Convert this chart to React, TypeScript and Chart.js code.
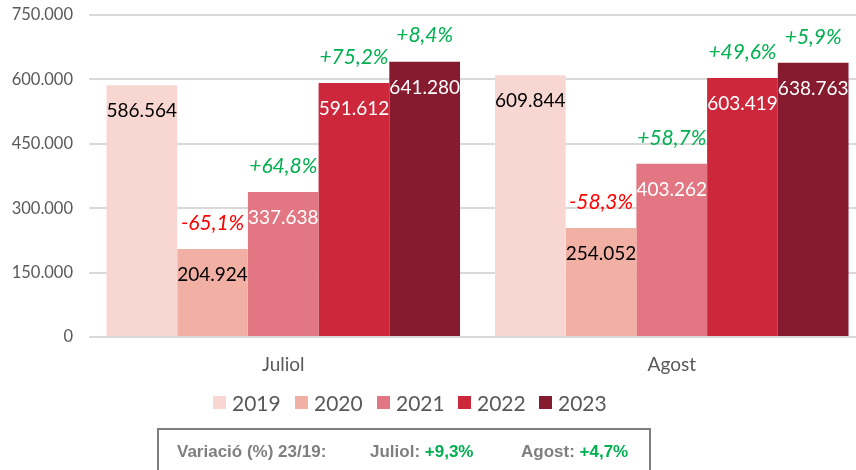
import React, { useEffect, useRef } from "react";
import { Chart, registerables } from "chart.js";

Chart.register(...registerables);

const categories = ["Juliol", "Agost"];
const years = ["2019", "2020", "2021", "2022", "2023"];
const values2019 = [586564, 609844];
const values2020 = [204924, 254052];
const values2021 = [337638, 403262];
const values2022 = [591612, 603419];
const values2023 = [641280, 638763];
const change2020 = [-65.1, -58.3];
const change2021 = [64.8, 58.7];
const change2022 = [75.2, 49.6];
const change2023 = [8.4, 5.9];
const yTicks = [0, 150000, 300000, 450000, 600000, 750000];
const variation2319 = ["+9,3%", "+4,7%"];

const colors = ["#f8d7d3", "#f2b0a5", "#e27783", "#cd273b", "#861a2f"];
const valueTextColors = ["#000000", "#000000", "#ffffff", "#ffffff", "#ffffff"];
const FONT = "Lato, 'Open Sans', sans-serif";

const fmt = (n: number) => String(Math.round(n)).replace(/\B(?=(\d{3})+(?!\d))/g, ".");
const fmtPct = (v: number) => (v > 0 ? "+" : "") + v.toFixed(1).replace(".", ",") + "%";

const seriesValues = [values2019, values2020, values2021, values2022, values2023];
const seriesChanges: (number[] | null)[] = [null, change2020, change2021, change2022, change2023];

const labelPlugin = {
  id: "barLabels",
  afterDatasetsDraw(chart: any) {
    const ctx = chart.ctx;
    ctx.save();
    ctx.textAlign = "center";
    ctx.textBaseline = "middle";
    chart.data.datasets.forEach((ds: any, di: number) => {
      const meta = chart.getDatasetMeta(di);
      meta.data.forEach((bar: any, i: number) => {
        const v = ds.data[i];
        ctx.font = `19px ${FONT}`;
        ctx.fillStyle = valueTextColors[di];
        ctx.fillText(fmt(v), bar.x, bar.y + 26);
        const ch = seriesChanges[di];
        if (ch) {
          const c = ch[i];
          ctx.font = `italic 21px ${FONT}`;
          ctx.fillStyle = c < 0 ? "#ff0000" : "#00b050";
          ctx.fillText(fmtPct(c), bar.x, bar.y - 26);
        }
      });
    });
    ctx.restore();
  },
};

const legendLefts = [213, 295, 377, 458, 539];

export default function App() {
  const ref = useRef<HTMLCanvasElement | null>(null);
  useEffect(() => {
    if (!ref.current) return;
    const chart = new Chart(ref.current, {
      type: "bar",
      data: {
        labels: categories,
        datasets: years.map((y, i) => ({
          label: y,
          data: seriesValues[i],
          backgroundColor: colors[i],
          borderWidth: 0,
          categoryPercentage: 0.91,
          barPercentage: 1.0,
        })),
      },
      options: {
        responsive: false,
        animation: false,
        layout: { padding: { top: 15, left: 0, right: 0, bottom: 93 } },
        plugins: {
          legend: { display: false },
          tooltip: { enabled: false },
        },
        scales: {
          x: {
            grid: { display: false },
            border: { display: false },
            ticks: { color: "#595959", font: { size: 19, family: FONT }, padding: 8 },
            afterFit: (axis: any) => {
              axis.height = 40;
              axis.paddingLeft = 0;
              axis.paddingRight = 0;
            },
          },
          y: {
            min: 0,
            max: 750000,
            afterBuildTicks: (axis: any) => {
              axis.ticks = yTicks.map((v) => ({ value: v }));
            },
            afterFit: (axis: any) => {
              axis.width = 89;
              axis.paddingTop = 0;
              axis.paddingBottom = 0;
            },
            grid: { color: "#d9d9d9", lineWidth: 2, drawTicks: false },
            border: { display: false },
            ticks: {
              color: "#595959",
              font: { size: 16.5, family: FONT },
              padding: 16,
              callback: (v: any) => fmt(Number(v)),
            },
          },
        },
      },
      plugins: [labelPlugin],
    });
    return () => chart.destroy();
  }, []);

  const boxText: React.CSSProperties = {
    position: "absolute",
    top: 0,
    lineHeight: "43px",
    fontFamily: "'Liberation Sans', Arial, sans-serif",
    fontWeight: "bold",
    fontSize: 17,
    color: "#7f7f7f",
    whiteSpace: "nowrap",
  };
  const green: React.CSSProperties = { color: "#00b050" };

  return (
    <div style={{ position: "absolute", left: 0, top: 0, width: 856, height: 470, overflow: "hidden", background: "#fff" }}>
      <canvas ref={ref} width={866} height={470} style={{ position: "absolute", left: 0, top: 0 }} />
      {years.map((y, i) => (
        <div
          key={y}
          style={{
            position: "absolute",
            left: legendLefts[i],
            top: 389,
            height: 26,
            display: "flex",
            alignItems: "center",
            fontFamily: FONT,
            fontSize: 21,
            color: "#595959",
            whiteSpace: "nowrap",
          }}
        >
          <span style={{ display: "inline-block", width: 13, height: 13, background: colors[i], marginRight: 6 }} />
          <span>{y}</span>
        </div>
      ))}
      <div
        style={{
          position: "absolute",
          left: 157,
          top: 428,
          width: 494,
          height: 60,
          border: "2px solid #7f7f7f",
          boxSizing: "border-box",
        }}
      >
        <span style={{ ...boxText, left: 18 }}>Variació (%) 23/19:</span>
        <span style={{ ...boxText, left: 211 }}>
          {categories[0]}: <span style={green}>{variation2319[0]}</span>
        </span>
        <span style={{ ...boxText, left: 362 }}>
          {categories[1]}: <span style={green}>{variation2319[1]}</span>
        </span>
      </div>
    </div>
  );
}
